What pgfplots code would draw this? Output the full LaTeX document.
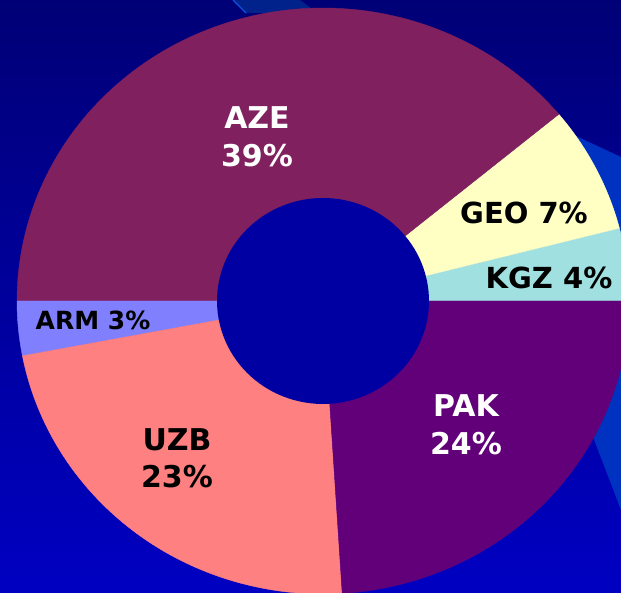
\documentclass[border=0pt]{standalone}
\usepackage{pgfplots}
\pgfplotsset{compat=1.18}
\usepackage{fontspec}
\setmainfont{DejaVu Sans}
\definecolor{aze}{HTML}{80205F}
\definecolor{geo}{HTML}{FFFFC4}
\definecolor{kgz}{HTML}{A0E0E0}
\definecolor{pak}{HTML}{62007A}
\definecolor{uzb}{HTML}{FF8080}
\definecolor{arm}{HTML}{8080FF}
\definecolor{hole}{HTML}{0000A2}
\definecolor{bgtop}{HTML}{000076}
\definecolor{bgbot}{HTML}{0000C2}
\definecolor{beamA}{HTML}{00228A}
\definecolor{beamB}{HTML}{0032C2}
\definecolor{beamL}{HTML}{1050E0}
\begin{document}
\begin{tikzpicture}
\begin{axis}[width=621pt,height=593pt,scale only axis,
  xmin=0,xmax=621,ymin=0,ymax=593,hide axis,clip=true,
  clip bounding box=upper bound]
% background
\path[top color=bgtop,bottom color=bgbot] (axis cs:0,0) rectangle (axis cs:621,593);
\fill[beamA] (axis cs:233,593) -- (axis cs:300,593) -- (axis cs:318,580) -- (axis cs:246,580) -- cycle;
\draw[beamL,line width=1.2pt] (axis cs:233,593) -- (axis cs:246,580);
\fill[beamB] (axis cs:520,490) -- (axis cs:578,456) -- (axis cs:621,436) -- (axis cs:621,83) -- (axis cs:593,156) -- (axis cs:540,300) -- cycle;
% donut wedges (percent -> degrees, counter-clockwise from 0 deg)
% KGZ 4, GEO 7, AZE 39, ARM 3, UZB 23, PAK 24
\addplot[fill=kgz,draw=kgz,line width=0.4pt,domain=0:14.4,samples=20,variable=\t]
  ({323+306*cos(\t)},{292+293*sin(\t)}) -- (axis cs:323,292) -- cycle;
\addplot[fill=geo,draw=geo,line width=0.4pt,domain=14.4:39.6,samples=30,variable=\t]
  ({323+306*cos(\t)},{292+293*sin(\t)}) -- (axis cs:323,292) -- cycle;
\addplot[fill=aze,draw=aze,line width=0.4pt,domain=39.6:180,samples=120,variable=\t]
  ({323+306*cos(\t)},{292+293*sin(\t)}) -- (axis cs:323,292) -- cycle;
\addplot[fill=arm,draw=arm,line width=0.4pt,domain=180:190.8,samples=15,variable=\t]
  ({323+306*cos(\t)},{292+293*sin(\t)}) -- (axis cs:323,292) -- cycle;
\addplot[fill=uzb,draw=uzb,line width=0.4pt,domain=190.8:273.6,samples=80,variable=\t]
  ({323+306*cos(\t)},{292+293*sin(\t)}) -- (axis cs:323,292) -- cycle;
\addplot[fill=pak,draw=pak,line width=0.4pt,domain=273.6:360,samples=80,variable=\t]
  ({323+306*cos(\t)},{292+293*sin(\t)}) -- (axis cs:323,292) -- cycle;
% hole
\addplot[fill=hole,draw=none,domain=0:360,samples=120,variable=\t]
  ({323+106*cos(\t)},{292+103*sin(\t)}) -- cycle;
% labels
\node[text=white,font=\fontsize{30}{36}\selectfont\bfseries] at (axis cs:257,475) {AZE};
\node[text=white,font=\fontsize{30}{36}\selectfont\bfseries] at (axis cs:257,437) {39\%};
\node[text=black,font=\fontsize{29}{36}\selectfont\bfseries] at (axis cs:524,380) {GEO 7\%};
\node[text=black,font=\fontsize{29}{36}\selectfont\bfseries] at (axis cs:549,315) {KGZ 4\%};
\node[text=white,font=\fontsize{30}{36}\selectfont\bfseries] at (axis cs:466,187) {PAK};
\node[text=white,font=\fontsize{30}{36}\selectfont\bfseries] at (axis cs:466,149) {24\%};
\node[text=black,font=\fontsize{30}{36}\selectfont\bfseries] at (axis cs:177,153) {UZB};
\node[text=black,font=\fontsize{30}{36}\selectfont\bfseries] at (axis cs:177,116) {23\%};
\node[text=black,font=\fontsize{25}{30}\selectfont\bfseries] at (axis cs:93,273) {ARM 3\%};
\end{axis}
\end{tikzpicture}
\end{document}
